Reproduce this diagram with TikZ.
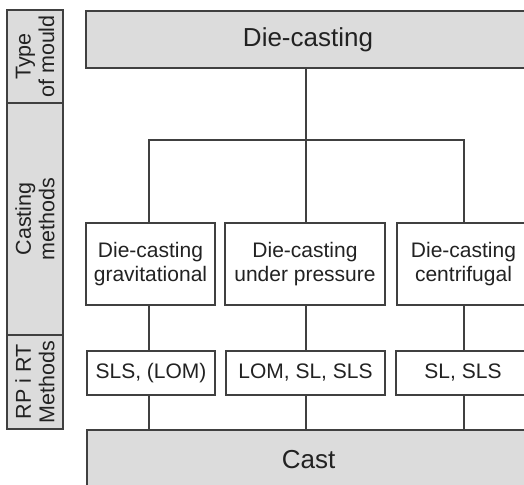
\documentclass[tikz,border=0pt]{standalone}
\usepackage{fontspec}
\setmainfont{Liberation Sans}
\usepackage{xcolor}
\usetikzlibrary{positioning}
\definecolor{linegray}{HTML}{404040}
\definecolor{boxgray}{HTML}{DCDCDC}
\definecolor{textgray}{HTML}{222222}

\begin{document}
\begin{tikzpicture}[
  x=1pt,y=-1pt,
  every node/.style={text=textgray,font=\fontsize{21}{24}\selectfont},
  box/.style={draw=linegray,line width=1.5pt,fill=white,align=center,inner sep=0pt},
  bigbox/.style={box,fill=boxgray,font=\fontsize{26}{30}\selectfont},
  side/.style={box,fill=boxgray,rotate=90,minimum height=56pt,font=\fontsize{21.5}{23.5}\selectfont},
  link/.style={draw=linegray,line width=1.5pt}
]
\useasboundingbox (0,0) rectangle (524,484);
\clip (0,0) rectangle (524,484);
% side column
\node[side,minimum width=93pt] (mould) at (35,56.5) {Type\\of mould};
\node[side,minimum width=232pt] (methods) at (35,219) {Casting\\methods};
\node[side,minimum width=94pt] (rprt) at (35,382) {RP i RT\\Methods};
% top and bottom
\node[bigbox,minimum width=444pt,minimum height=57pt] (die) at (308,39.5) {Die-casting};
\node[bigbox,minimum width=443pt,minimum height=60pt] (cast) at (308.5,460) {Cast};
% casting methods
\node[box,minimum width=129pt,minimum height=82pt] (grav) at (150.5,264) {Die-casting\\gravitational};
\node[box,minimum width=160pt,minimum height=82pt] (press) at (305,264) {Die-casting\\under pressure};
\node[box,minimum width=133pt,minimum height=82pt] (centr) at (463.5,264) {Die-casting\\centrifugal};
% RP / RT methods
\node[box,minimum width=128pt,minimum height=44pt] (m1) at (151,373) {SLS, (LOM)};
\node[box,minimum width=159pt,minimum height=44pt] (m2) at (305.5,373) {LOM, SL, SLS};
\node[box,minimum width=134pt,minimum height=44pt] (m3) at (463,373) {SL, SLS};
% tree
\coordinate (split) at (306,140);
\draw[link] (die.south -| split) -- (press.north -| split);
\draw[link] (grav.north -| 149,0) |- (split) -| (centr.north -| 464,0);
\draw[link] (grav.south -| 149,0) -- (m1.north -| 149,0);
\draw[link] (press.south -| split) -- (m2.north -| split);
\draw[link] (centr.south -| 464,0) -- (m3.north -| 464,0);
\draw[link] (m1.south -| 149,0) -- (cast.north -| 149,0);
\draw[link] (m2.south -| split) -- (cast.north -| split);
\draw[link] (m3.south -| 464,0) -- (cast.north -| 464,0);
\end{tikzpicture}
\end{document}
